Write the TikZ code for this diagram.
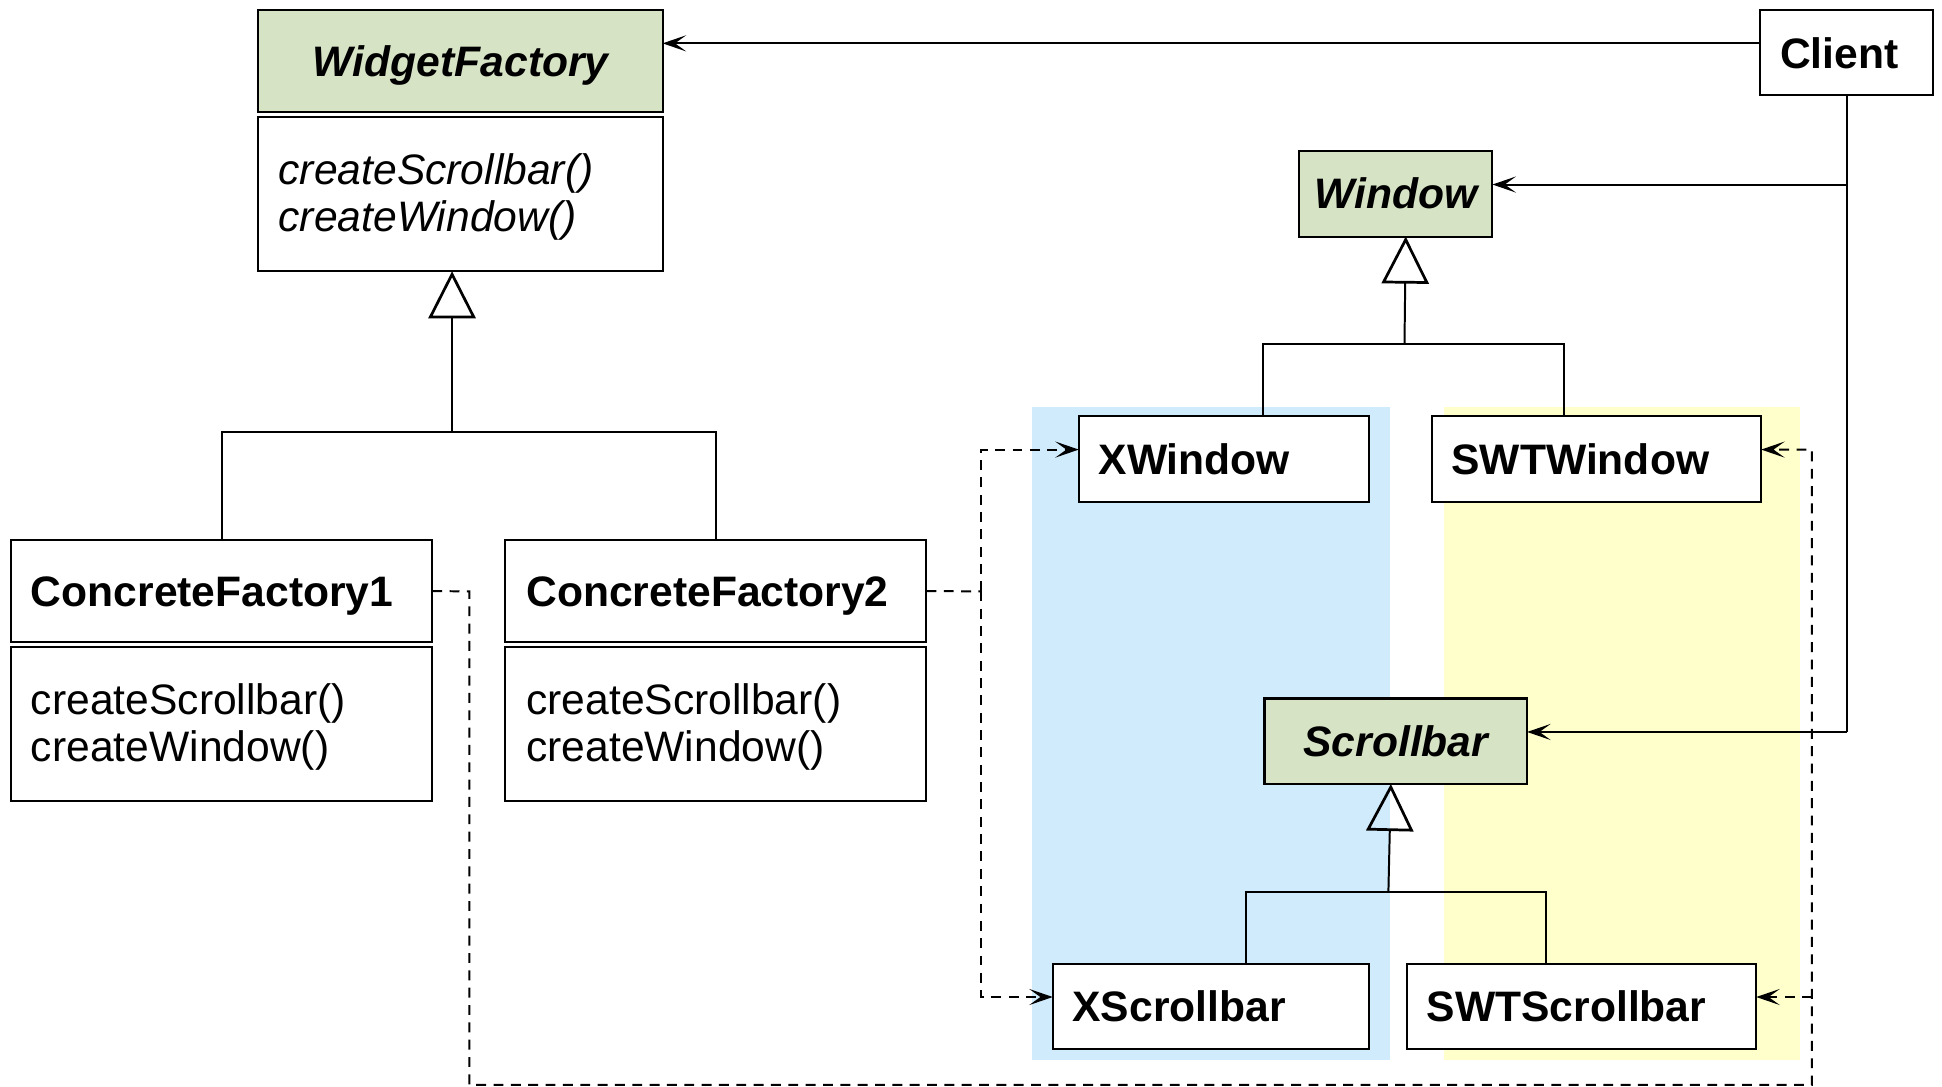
\documentclass[tikz,border=0pt]{standalone}
\usepackage{fontspec}
\setmainfont{Liberation Sans}
\usetikzlibrary{arrows.meta}
\definecolor{absgreen}{RGB}{214,227,196}
\definecolor{xblue}{RGB}{208,235,252}
\definecolor{swtyellow}{RGB}{255,255,204}
\newcommand{\fsz}{\fontsize{34.4}{38}\selectfont}
\tikzset{
  box/.style={draw=black, line width=1.7pt, inner sep=0pt, outer sep=0pt},
  absbox/.style={box, fill=absgreen},
  plainbox/.style={box, fill=white},
  lbl/.style={inner sep=0pt, outer sep=0pt, font=\fsz},
  conn/.style={line width=1.6pt},
  head/.style={},
  assoc/.style={conn, -{Stealth[length=19pt,width=13pt,inset=9pt]}},
  inh/.style={conn, -{Triangle[open,length=38pt,width=38pt,line width=2.2pt]}},
  dep/.style={line width=1.6pt, dash pattern=on 8pt off 6pt},
  deparrow/.style={dep, -{Stealth[length=19pt,width=13pt,inset=9pt]}},
}
\begin{document}
\begin{tikzpicture}[x=1pt,y=-1pt]
\useasboundingbox[fill=white] (0,0) rectangle (1568,877);
% background regions
\fill[xblue] (833,329) rectangle (1122,856);
\fill[swtyellow] (1166,329) rectangle (1453,856);

% WidgetFactory
\node[absbox, minimum width=327pt, minimum height=82.5pt] (wfh) at (371.5,49.25) {};
\node[plainbox, minimum width=327pt, minimum height=124.5pt] (wfb) at (371.5,156.75) {};
\node[lbl, anchor=base, font=\fsz\bfseries\itshape] (wft) at (372,62) {WidgetFactory};
\node[lbl, anchor=base west, font=\fsz\itshape] (wfm) at (225,149) {createScrollbar()};
\node[lbl, anchor=base west, font=\fsz\itshape] (wfm2) at (225,187) {createWindow()};

% ConcreteFactory1
\node[plainbox, minimum width=340pt, minimum height=82.5pt] (cf1h) at (179,477.25) {};
\node[plainbox, minimum width=340pt, minimum height=124.5pt] (cf1b) at (179,584.75) {};
\node[lbl, anchor=base west, font=\fsz\bfseries] (cf1t) at (25,490) {ConcreteFactory1};
\node[lbl, anchor=base west] (cf1m) at (25,577) {createScrollbar()};
\node[lbl, anchor=base west] (cf1m2) at (25,615) {createWindow()};

% ConcreteFactory2
\node[plainbox, minimum width=340pt, minimum height=82.5pt] (cf2h) at (578,477.25) {};
\node[plainbox, minimum width=340pt, minimum height=124.5pt] (cf2b) at (578,584.75) {};
\node[lbl, anchor=base west, font=\fsz\bfseries] (cf2t) at (425,490) {ConcreteFactory2};
\node[lbl, anchor=base west] (cf2m) at (425,577) {createScrollbar()};
\node[lbl, anchor=base west] (cf2m2) at (425,615) {createWindow()};

% Client
\node[plainbox, minimum width=140pt, minimum height=69pt] (client) at (1491,42.5) {};
\node[lbl, anchor=base, font=\fsz\bfseries] (clientt) at (1485,55) {Client};

% Window
\node[absbox, minimum width=156pt, minimum height=69pt] (win) at (1127,156.5) {};
\node[lbl, anchor=base, font=\fsz\bfseries\itshape] (wint) at (1127,168) {Window};
\node[plainbox, minimum width=234pt, minimum height=69pt] (xwin) at (988,370.5) {};
\node[lbl, anchor=base west, font=\fsz\bfseries] (xwint) at (887,383) {XWindow};
\node[plainbox, minimum width=266pt, minimum height=69pt] (swtwin) at (1289,370.5) {};
\node[lbl, anchor=base west, font=\fsz\bfseries] (swtwint) at (1172,383) {SWTWindow};

% Scrollbar
\node[absbox, minimum width=212pt, minimum height=69pt] (scr) at (1127,598.5) {};
\node[lbl, anchor=base, font=\fsz\bfseries\itshape] (scrt) at (1127,611) {Scrollbar};
\node[plainbox, minimum width=255pt, minimum height=69pt] (xscr) at (977.5,812.5) {};
\node[lbl, anchor=base west, font=\fsz\bfseries] (xscrt) at (866,825) {XScrollbar};
\node[plainbox, minimum width=282pt, minimum height=69pt] (swtscr) at (1277,812.5) {};
\node[lbl, anchor=base west, font=\fsz\bfseries] (swtscrt) at (1152,825) {SWTScrollbar};

% Client associations
\coordinate (cW) at ([yshift=7.5pt]client.west);
\coordinate (wfE) at (wfh.east |- cW);
\draw[assoc] (cW) -- (wfE);
\coordinate (winE) at ([yshift=7.5pt]win.east);
\coordinate (scrE) at ([yshift=7.5pt]scr.east);
\draw[conn] (client.south) -- (client.south |- scrE);
\draw[assoc] (client.south |- winE) -- (winE);
\draw[assoc] (client.south |- scrE) -- (scrE);

% Inheritance WidgetFactory
\coordinate (j1) at (365,349);
\draw[conn] (cf1h.north) |- (j1) -| (cf2h.north);
\draw[inh] (j1) -- (j1 |- wfb.south);

% Inheritance Window
\coordinate (j2) at (1134,278);
\coordinate (xwN) at ([xshift=32pt]xwin.north);
\coordinate (swN) at ([xshift=-26pt]swtwin.north);
\draw[conn] (xwN) |- (j2) -| (swN);
\draw[inh] (j2) -- ([xshift=8pt]win.south);

% Inheritance Scrollbar
\coordinate (j3) at (1121,720);
\coordinate (xsN) at ([xshift=28.5pt]xscr.north);
\coordinate (ssN) at ([xshift=-29pt]swtscr.north);
\draw[conn] (xsN) |- (j3) -| (ssN);
\draw[inh] (j3) -- ([xshift=-4pt]scr.south);

% Dependencies ConcreteFactory2
\coordinate (xwW) at ([yshift=7.5pt]xwin.west);
\coordinate (xsW) at ([yshift=7.5pt]xscr.west);
\coordinate (d2) at (792,477.5);
\draw[dep] (cf2h.east) -- (d2);
\draw[deparrow] (d2) |- (xwW);
\draw[deparrow] (d2) |- (xsW);

% Dependencies ConcreteFactory1
\coordinate (swE) at ([yshift=7.5pt]swtwin.east);
\coordinate (ssE) at ([yshift=7.5pt]swtscr.east);
\coordinate (d1) at (379,477.5);
\coordinate (d1b) at (379,876);
\coordinate (d1c) at (1463,876);
\draw[deparrow] (cf1h.east) -- (d1) -- (d1b) -- (d1c) |- (swE);
\draw[deparrow] (d1c |- ssE) -- (ssE);
\end{tikzpicture}
\end{document}
